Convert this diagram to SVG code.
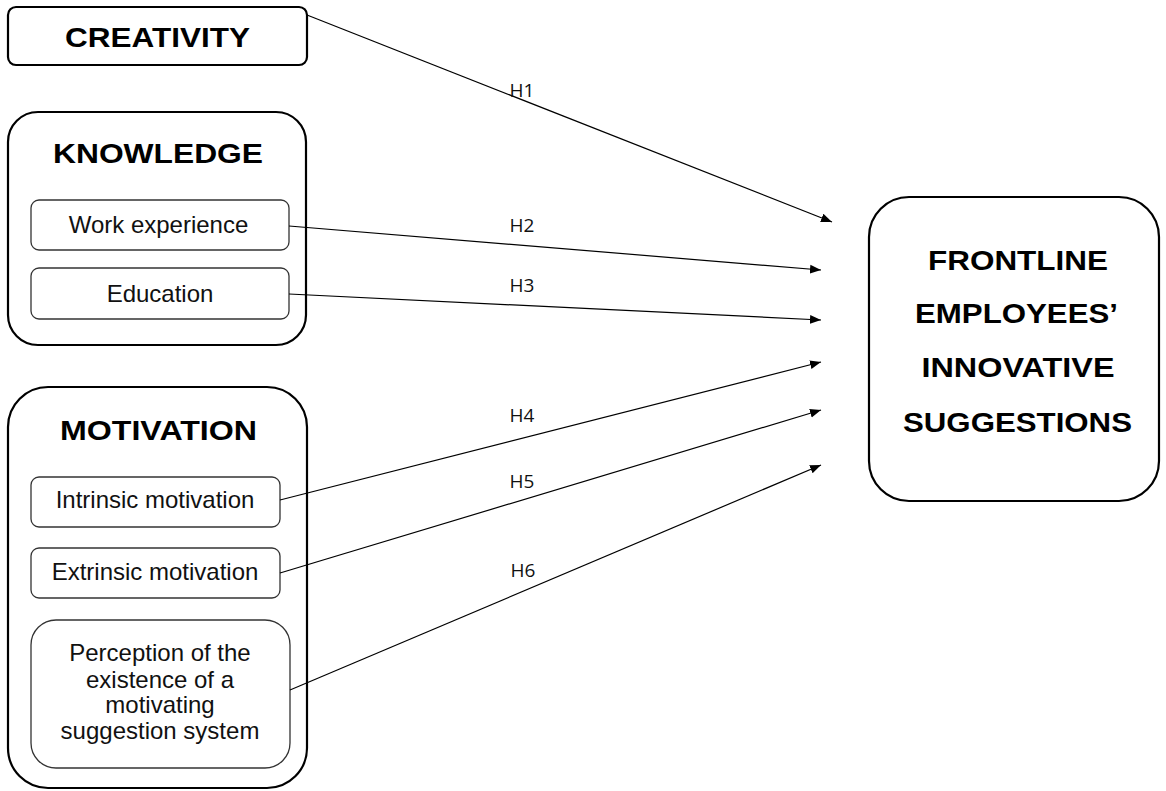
<svg xmlns="http://www.w3.org/2000/svg" width="1166" height="791" viewBox="0 0 1166 791">
<style>
.box{fill:#fff;stroke:#000;stroke-width:2.2}
.sub{fill:#fff;stroke:#333;stroke-width:1.3}
.title{font-family:"Liberation Sans",Arial,sans-serif;font-weight:bold;font-size:28px;fill:#000;text-anchor:middle}
.item{font-family:"Liberation Sans",Arial,sans-serif;font-size:24px;fill:#111;text-anchor:middle}
.lbl{font-family:"Open Sans","Noto Sans",sans-serif;font-size:19px;fill:#111;text-anchor:middle}
.conn{stroke:#000;stroke-width:1.2;fill:none;marker-end:url(#ah)}
</style>
<defs>
<marker id="ah" viewBox="0 0 10 10" refX="10" refY="5" markerWidth="11" markerHeight="11" markerUnits="userSpaceOnUse" orient="auto">
<path d="M0,1 L10,5 L0,9 z" fill="#000"/>
</marker>
</defs>
<rect width="1166" height="791" fill="#fff"/>
<g id="creativity">
<rect class="box" x="8" y="7" width="299" height="58" rx="8"/>
<text class="title" x="157.5" y="47" textLength="185" lengthAdjust="spacingAndGlyphs">CREATIVITY</text>
</g>
<g id="knowledge">
<rect class="box" x="8" y="112" width="298" height="233" rx="30"/>
<text class="title" x="158" y="163" textLength="210" lengthAdjust="spacingAndGlyphs">KNOWLEDGE</text>
</g>
<g id="work-experience">
<rect class="sub" x="31" y="200" width="258" height="50" rx="8"/>
<text class="item" x="158.5" y="233">Work experience</text>
</g>
<g id="education">
<rect class="sub" x="31" y="268" width="258" height="51" rx="8"/>
<text class="item" x="160" y="302">Education</text>
</g>
<g id="motivation">
<rect class="box" x="8" y="387" width="299" height="401" rx="40"/>
<text class="title" x="158.5" y="440" textLength="197" lengthAdjust="spacingAndGlyphs">MOTIVATION</text>
</g>
<g id="intrinsic">
<rect class="sub" x="31" y="477" width="249" height="50" rx="8"/>
<text class="item" x="155" y="508">Intrinsic motivation</text>
</g>
<g id="extrinsic">
<rect class="sub" x="31" y="548" width="249" height="50" rx="8"/>
<text class="item" x="155" y="580">Extrinsic motivation</text>
</g>
<g id="perception">
<rect class="sub" x="31" y="620" width="259" height="148" rx="25"/>
<text class="item" x="160" y="661">Perception of the</text>
<text class="item" x="160" y="688">existence of a</text>
<text class="item" x="160" y="713">motivating</text>
<text class="item" x="160" y="739">suggestion system</text>
</g>
<g id="frontline">
<rect class="box" x="869" y="197" width="290" height="304" rx="40"/>
<text class="title" x="1018" y="270" textLength="180" lengthAdjust="spacingAndGlyphs">FRONTLINE</text>
<text class="title" x="1016.5" y="323" textLength="203" lengthAdjust="spacingAndGlyphs">EMPLOYEES’</text>
<text class="title" x="1018" y="377" textLength="193" lengthAdjust="spacingAndGlyphs">INNOVATIVE</text>
<text class="title" x="1017.5" y="432" textLength="229" lengthAdjust="spacingAndGlyphs">SUGGESTIONS</text>
</g>
<g id="connectors">
<line class="conn" x1="307" y1="15" x2="832" y2="222"/>
<line class="conn" x1="289" y1="226" x2="821" y2="270"/>
<line class="conn" x1="289" y1="294" x2="821" y2="320"/>
<line class="conn" x1="280" y1="500" x2="821" y2="362"/>
<line class="conn" x1="280" y1="573" x2="821" y2="410"/>
<line class="conn" x1="290" y1="690" x2="821" y2="465"/>
<text class="lbl" x="522" y="97">H1</text>
<text class="lbl" x="522" y="232">H2</text>
<text class="lbl" x="522" y="292">H3</text>
<text class="lbl" x="522" y="422">H4</text>
<text class="lbl" x="522" y="488">H5</text>
<text class="lbl" x="523" y="577">H6</text>
</g>
</svg>
